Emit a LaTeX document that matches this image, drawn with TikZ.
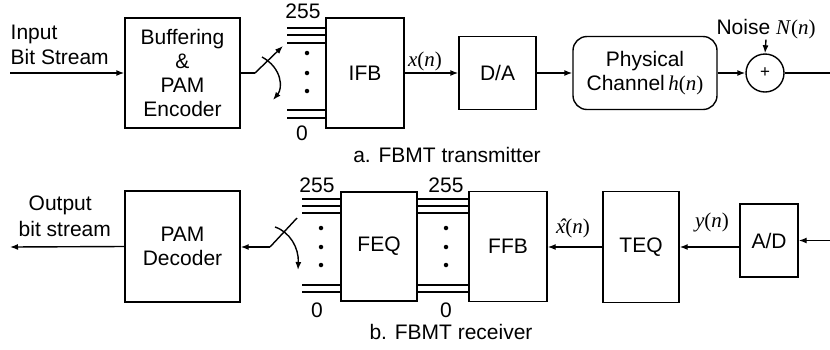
\documentclass[tikz,border=0pt]{standalone}
\usepackage{fontspec}
\setmainfont{Liberation Sans}
\newfontfamily\tms{Liberation Serif}
\usetikzlibrary{arrows.meta}
\newcommand{\fnof}[1]{{\tms\itshape #1\/\upshape(\itshape n\/\upshape)}}
\newcommand{\xhatn}{{\tms\itshape\makebox[0pt][l]{\hspace{0.13em}ˆ}x\/\upshape(\itshape n\/\upshape)}}
\begin{document}
\begin{tikzpicture}[x=1pt,y=-1pt, font=\fontsize{21}{24}\selectfont, line width=1.4pt,
  blk/.style={draw, line width=1.4pt, inner sep=0pt, align=center},
  arr/.style={-{Latex[length=8pt,width=6pt]}},
  wire/.style={line width=1.2pt},
  dotc/.style={circle, fill, inner sep=0pt, minimum size=4.5pt}]
\useasboundingbox (0,0) rectangle (830,349);

% ---------- transmitter ----------
\node[blk, minimum width=115pt, minimum height=110pt] (buf) at (182.5,73) {Buffering\\\&\\PAM\\Encoder};
\node[blk, minimum width=78pt, minimum height=110pt] (ifb) at (365,73) {IFB};
\node[blk, minimum width=77pt, minimum height=73pt] (da) at (497.5,73) {D/A};
\node[blk, rounded corners=14pt, minimum width=144pt, minimum height=73pt] (ch) at (645,73) {Physical\\Channel\,\fnof{h}};
\node[blk, circle, minimum size=38pt] (sum) at (765,73) {\fontsize{17}{17}\selectfont +};
\node[inner sep=0pt] (noise) at (766,29) {Noise \fnof{N}};
\coordinate (outr) at (830,73);
\coordinate (inl) at (10,73);
\node[anchor=west, inner sep=0pt] (inlbl1) at (10,34) {Input};
\node[anchor=west, inner sep=0pt] (inlbl2) at (10,57) {Bit Stream};

\draw[arr] (inl) -- (buf.west);
\coordinate (sw1) at (255,73);
\coordinate (sw2) at (283,46);
\draw (buf.east) -- (sw1);
\draw[arr] (sw1) -- (sw2);
\coordinate (arcA1) at (262,57);
\coordinate (arcA2) at (273,100);
\draw[arr] (arcA1) .. controls (282,68) and (283,88) .. (arcA2);

\foreach \yy in {28,35,43,110,118}{
  \coordinate (tw) at (287,\yy);
  \draw[wire] (tw) -- (tw -| ifb.west);
}
\foreach \yy in {53,73,91}{ \node[dotc] at (307,\yy) {}; }
\node (l255a) at (303,11) {255};
\node (l0a) at (302,133) {0};

\draw[arr] (ifb.east) -- (da.west);
\node (xlbl) at (425,61) {\fnof{x}};
\draw[arr] (da.east) -- (ch.west);
\draw[arr] (ch.east) -- (sum.west);
\draw (sum.east) -- (outr);
\draw[arr] (noise.south) -- (sum.north);
\node (capa) at (447,155) {a. FBMT transmitter};

% ---------- receiver ----------
\node[blk, minimum width=115pt, minimum height=111pt] (pam) at (182.5,246.5) {PAM\\Decoder};
\node[blk, minimum width=76pt, minimum height=109pt] (feq) at (379,246.5) {FEQ};
\node[blk, minimum width=78pt, minimum height=110pt] (ffb) at (508,246.5) {FFB};
\node[blk, minimum width=76pt, minimum height=111pt] (teq) at (641,247) {TEQ};
\node[blk, minimum width=58pt, minimum height=73pt] (ad) at (769,240.5) {A/D};
\coordinate (inr) at (830,240.5);
\coordinate (outl) at (10,247);

\draw[arr] (inr) -- (ad.east);
\draw[arr] (ad.west |- teq.east) -- (teq.east);
\node (ylbl) at (712,222) {\fnof{y}};
\draw[arr] (teq.west) -- (teq.west -| ffb.east);
\node (xhlbl) at (573,228) {\xhatn};

\foreach \yy in {199,206,213,285,292}{
  \coordinate (rw) at (302,\yy);
  \draw[wire] (rw) -- (rw -| feq.west);
  \coordinate (mw) at (feq.east |- rw);
  \draw[wire] (mw) -- (mw -| ffb.west);
}
\foreach \yy in {228,247,265}{
  \node[dotc] at (321,\yy) {};
  \node[dotc] at (446,\yy) {};
}
\node (l255b) at (317,185) {255};
\node (l0b) at (317,310) {0};
\node (l255c) at (446,185) {255};
\node (l0c) at (446,310) {0};

\coordinate (sw3) at (270,247);
\coordinate (sw4) at (297,218);
\draw[arr] (sw3) -- (sw3 -| pam.east);
\draw (sw3) -- (sw4);
\coordinate (arcB1) at (275,227);
\coordinate (arcB2) at (298,270);
\draw[arr] (arcB1) .. controls (290,232) and (299,248) .. (arcB2);

\draw[arr] (pam.west) -- (outl);
\node[anchor=west, inner sep=0pt] (olbl1) at (28,205) {Output};
\node[anchor=west, inner sep=0pt] (olbl2) at (18,229) {bit stream};
\node (capb) at (451,332) {b. FBMT receiver};
\end{tikzpicture}
\end{document}
